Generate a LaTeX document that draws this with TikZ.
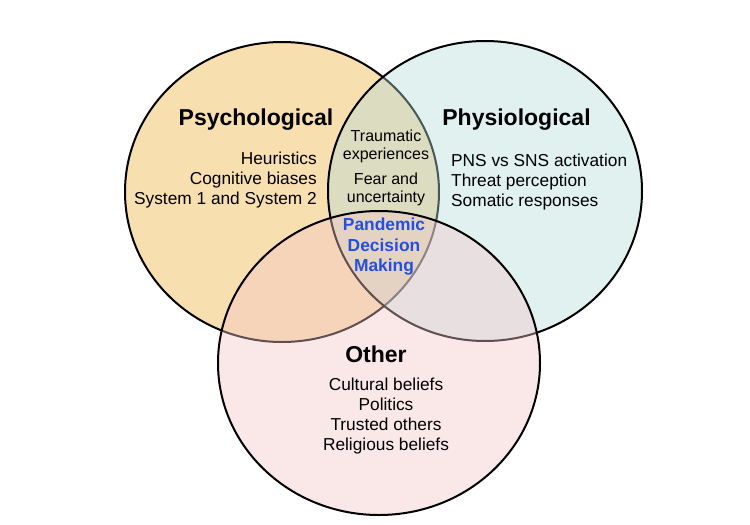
\documentclass[tikz,border=0pt]{standalone}
\usepackage{fontspec}
\setmainfont{Liberation Sans}
\begin{document}
\begin{tikzpicture}[x=1pt,y=-1pt,line cap=round,
% Styles
venn line/.style={line width=2pt,draw=black},
see through/.style={fill opacity=0.4},
heading/.style={inner sep=0pt,font=\fontsize{23}{27}\selectfont\bfseries},
item list/.style={inner sep=0pt,font=\fontsize{17.3}{20}\selectfont},
lens text/.style={inner sep=0pt,align=center,font=\fontsize{16}{18}\selectfont},
centre text/.style={inner sep=0pt,align=center,text=pdmblue,font=\fontsize{17.4}{20.5}\selectfont\bfseries}]
% Colors
\definecolor{psychfill}{RGB}{248,223,176}
\definecolor{physfill}{RGB}{178,220,218}
\definecolor{otherfill}{RGB}{242,197,200}
\definecolor{pdmblue}{RGB}{35,80,225}
\useasboundingbox (0,0) rectangle (750,525);
% Circles
\fill[psychfill] (282,192) ellipse [x radius=157, y radius=150];
\draw[venn line] (282,192) ellipse [x radius=157, y radius=150];
\fill[physfill,see through] (485,191) ellipse [x radius=157, y radius=150];
\draw[venn line] (485,191) ellipse [x radius=157, y radius=150];
\fill[otherfill,see through] (379,363) ellipse [x radius=161, y radius=152];
\draw[venn line] (379,363) ellipse [x radius=161, y radius=152];
% Texts
\node[heading] (psych) at (256,120) {Psychological};
\node[item list,align=right,anchor=east] (psych list) at (317,180)
  {Heuristics\\Cognitive biases\\System 1 and System 2};
\node[heading] (phys) at (516.5,120) {Physiological};
\node[item list,align=left,anchor=west] (phys list) at (451,182)
  {PNS vs SNS activation\\Threat perception\\Somatic responses};
\node[lens text] (trauma) at (386,146) {Traumatic\\experiences};
\node[lens text] (fear) at (386,189) {Fear and\\uncertainty};
\node[centre text] (pdm) at (384,247) {Pandemic\\Decision\\Making};
\node[heading] (other) at (376,354) {Other};
\node[item list,align=center] (other list) at (386,416.5)
  {Cultural beliefs\\Politics\\Trusted others\\Religious beliefs};
\end{tikzpicture}
\end{document}
